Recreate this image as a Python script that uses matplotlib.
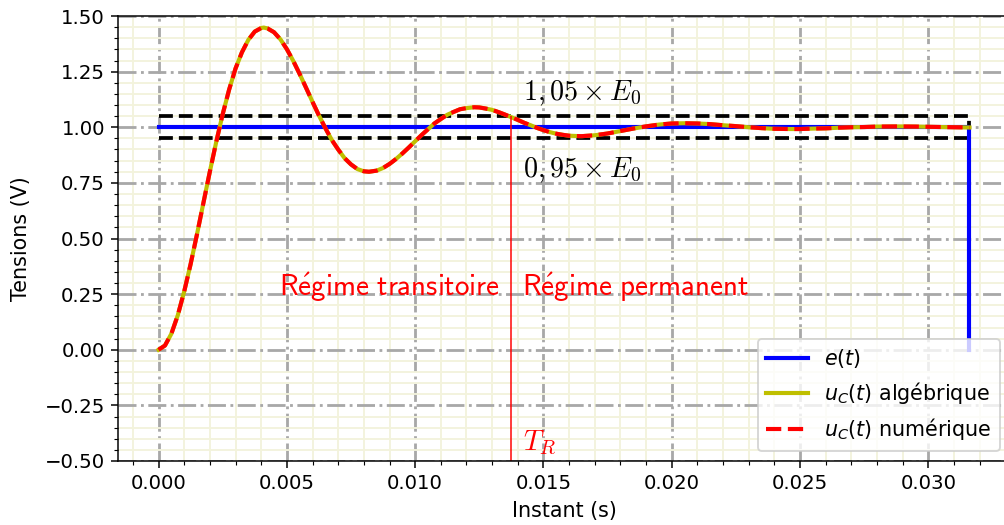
#!/usr/bin/env python3
import matplotlib
matplotlib.use('Agg')
import matplotlib.pyplot as plt
from matplotlib.ticker import MultipleLocator

t = [0.0, 0.00025, 0.0005, 0.00075, 0.001, 0.00125, 0.0015, 0.00175, 0.002, 0.00225,
     0.0025, 0.00275, 0.003, 0.00325, 0.0035, 0.00375, 0.004, 0.0041, 0.00425, 0.0045,
     0.00475, 0.005, 0.00525, 0.0055, 0.00575, 0.006, 0.00625, 0.0065, 0.00675, 0.007,
     0.00725, 0.0075, 0.00775, 0.008, 0.0082, 0.0085, 0.00875, 0.009, 0.00925, 0.0095,
     0.00975, 0.010, 0.01025, 0.0105, 0.01075, 0.011, 0.01125, 0.0115, 0.01175, 0.012,
     0.0123, 0.0125, 0.01275, 0.013, 0.01325, 0.0135, 0.01375, 0.014, 0.01425, 0.0145,
     0.01475, 0.015, 0.01525, 0.0155, 0.01575, 0.016, 0.0164, 0.0165, 0.017, 0.0175,
     0.018, 0.0185, 0.019, 0.0195, 0.020, 0.0205, 0.021, 0.0215, 0.022, 0.0225,
     0.023, 0.0235, 0.024, 0.0246, 0.025, 0.0255, 0.026, 0.0265, 0.027, 0.0275,
     0.028, 0.0287, 0.029, 0.0295, 0.030, 0.0305, 0.031, 0.0316]
uc = [0.0, 0.019, 0.072, 0.155, 0.262, 0.385, 0.520, 0.661, 0.801, 0.935,
      1.059, 1.169, 1.264, 1.337, 1.393, 1.430, 1.446, 1.448, 1.444, 1.427,
      1.395, 1.351, 1.298, 1.239, 1.177, 1.114, 1.053, 0.996, 0.943, 0.900,
      0.861, 0.833, 0.812, 0.802, 0.800, 0.805, 0.817, 0.835, 0.857, 0.882,
      0.909, 0.937, 0.965, 0.991, 1.017, 1.037, 1.056, 1.069, 1.081, 1.086,
      1.090, 1.089, 1.084, 1.078, 1.068, 1.057, 1.045, 1.033, 1.020, 1.009,
      0.997, 0.987, 0.978, 0.971, 0.966, 0.962, 0.960, 0.960, 0.964, 0.972,
      0.983, 0.994, 1.004, 1.012, 1.017, 1.018, 1.017, 1.014, 1.009, 1.005,
      1.000, 0.996, 0.993, 0.992, 0.992, 0.994, 0.995, 0.998, 1.000, 1.001,
      1.003, 1.0036, 1.0035, 1.003, 1.002, 1.001, 1.000, 0.999]

t_e = [0.0, 0.0316, 0.0316]
e = [1.0, 1.0, 0.0]
e_haut = [1.05, 1.05, 0.0]
e_bas = [0.95, 0.95, 0.0]

TR = 0.01374

fig = plt.figure(figsize=(1004/135, 525/135), dpi=135)
ax = fig.add_axes([118/1004, 1-461/525, (1010-118)/1004, (461-16)/525])

ax.plot(t_e, e_haut, 'k--', lw=2)
ax.plot(t_e, e_bas, 'k--', lw=2)
ax.plot(t_e, e, 'b-', lw=2.2, label=r'$e(t)$')
ax.plot(t, uc, 'y-', lw=2.2, label=r'$u_C(t)$ algébrique')
ax.plot(t, uc, 'r--', lw=2.2, label=r'$u_C(t)$ numérique')
ax.vlines(TR, -0.5, 1.05, color='r', lw=0.8)

ax.text(0.0142, 1.12, r'$1,05\times E_0$', fontsize=15, math_fontfamily='cm')
ax.text(0.0142, 0.776, r'$0,95\times E_0$', fontsize=15, math_fontfamily='cm')
ax.text(0.0142, -0.45, r'$T_R$', fontsize=15, color='r', math_fontfamily='cm')
ax.text(0.01331, 0.242, r'$\mathsf{R\acute{e}gime\ transitoire}$', fontsize=15.5,
        color='r', ha='right', math_fontfamily='cm')
ax.text(0.01416, 0.242, r'$\mathsf{R\acute{e}gime\ permanent}$', fontsize=15.5,
        color='r', ha='left', math_fontfamily='cm')

ax.set_ylim(-0.5, 1.5)
ax.xaxis.set_minor_locator(MultipleLocator(0.001))
ax.yaxis.set_minor_locator(MultipleLocator(0.05))
ax.tick_params(labelsize=10.5)
ax.grid(which='minor', color='#f3f3dc', lw=1)
ax.grid(which='major', color='#a8a8a8', ls='-.', lw=1.5)
ax.set_axisbelow(True)
ax.set_xlabel('Instant (s)', fontsize=11)
ax.set_ylabel('Tensions (V)', fontsize=11, labelpad=7)
ax.legend(loc='lower right', fontsize=11)

fig.savefig('out.png', dpi=135)
